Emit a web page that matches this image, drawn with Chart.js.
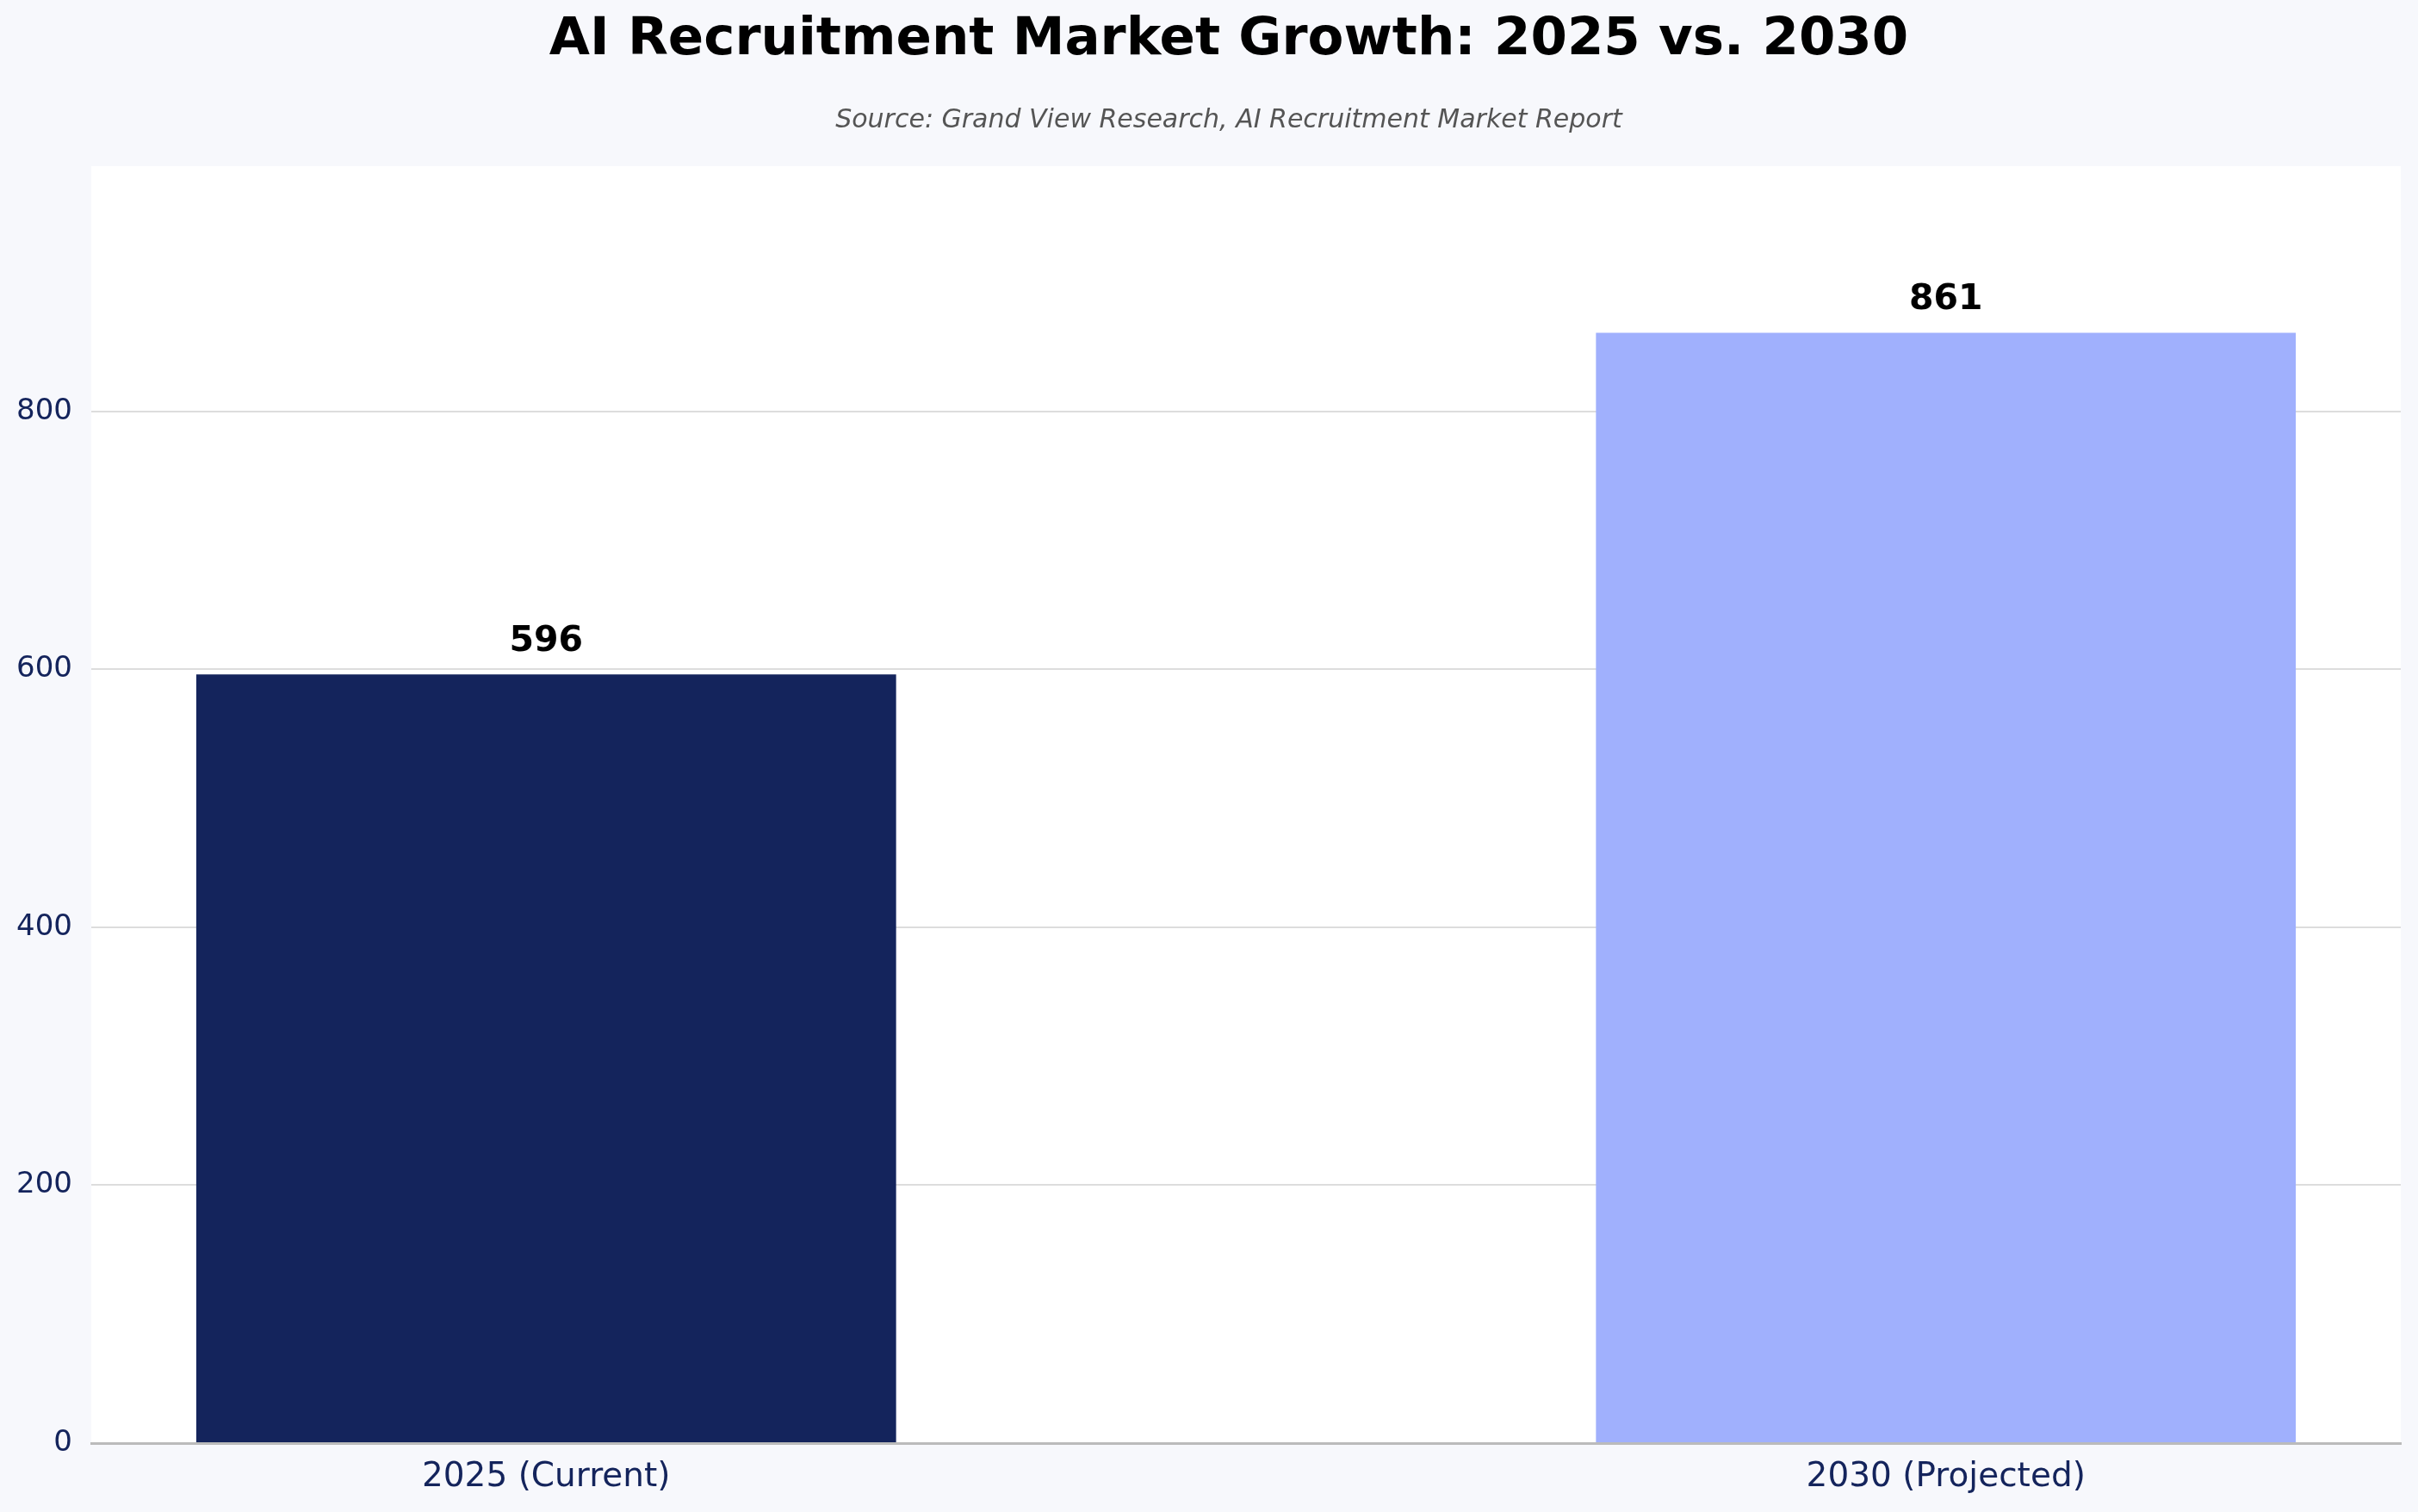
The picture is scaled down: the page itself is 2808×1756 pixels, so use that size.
<!DOCTYPE html>
<html>
<head>
<meta charset="utf-8">
<script src="https://cdn.jsdelivr.net/npm/chart.js@4.4.1/dist/chart.umd.min.js"></script>
<style>
  html, body { margin: 0; padding: 0; background: #F7F8FC; }
  #wrap { width: 2808px; height: 1756px; }
</style>
</head>
<body>
<div id="wrap"><canvas id="myChart" width="2808" height="1756"></canvas></div>
<script>
// data
var categories = ['2025 (Current)', '2030 (Projected)'];
var values = [596, 861];
var barColors = ['#14245C', '#A0B0FD'];
var yTicks = [0, 200, 400, 600, 800];
var yMax = 990.15;
var titleText = 'AI Recruitment Market Growth: 2025 vs. 2030';
var subtitleText = 'Source: Grand View Research, AI Recruitment Market Report';

document.addEventListener('DOMContentLoaded', function () {
    var navy = '#14245C';

    // white plot area
    var plotBg = {
        id: 'plotBg',
        beforeDraw: function (chart) {
            var a = chart.chartArea, c = chart.ctx;
            c.save();
            c.fillStyle = '#FFFFFF';
            c.fillRect(a.left, a.top, a.right - a.left, a.bottom - a.top);
            c.restore();
        }
    };

    // title + source line, centred over the plot area like the original
    var headings = {
        id: 'headings',
        afterDraw: function (chart) {
            var a = chart.chartArea, c = chart.ctx;
            var cx = (a.left + a.right) / 2 - 20;
            c.save();
            c.textAlign = 'center';
            c.textBaseline = 'middle';
            c.fillStyle = '#000000';
            c.font = 'bold 61px "DejaVu Sans"';
            c.fillText(titleText, cx, 47);
            c.fillStyle = '#555555';
            c.font = 'italic 30px "DejaVu Sans"';
            c.fillText(subtitleText, cx, 140);
            c.restore();
        }
    };

    // value labels over the bars
    var valueLabels = {
        id: 'valueLabels',
        afterDatasetsDraw: function (chart) {
            var c = chart.ctx;
            var meta = chart.getDatasetMeta(0);
            c.save();
            c.font = 'bold 41px "DejaVu Sans"';
            c.fillStyle = '#000000';
            c.textAlign = 'center';
            c.textBaseline = 'alphabetic';
            meta.data.forEach(function (bar, i) {
                c.fillText(String(values[i]), bar.x, bar.y - 27);
            });
            c.restore();
        }
    };

    var ctx = document.getElementById('myChart').getContext('2d');
    var myChart = new Chart(ctx, {
        type: 'bar',
        data: {
            datasets: [{
                data: values.map(function (v, i) { return { x: i, y: v }; }),
                backgroundColor: barColors,
                borderWidth: 0,
                barPercentage: 0.5,
                categoryPercentage: 1
            }]
        },
        options: {
            responsive: false,
            devicePixelRatio: 1,
            animation: false,
            layout: { padding: { left: 0, right: 20, top: 193, bottom: 0 } },
            plugins: {
                legend: { display: false },
                tooltip: { enabled: false },
                title: { display: false },
                subtitle: { display: false }
            },
            scales: {
                x: {
                    type: 'linear',
                    min: -0.325,
                    max: 1.325,
                    offset: false,
                    grid: { display: false, drawTicks: false },
                    border: { display: true, color: '#BBBBBB', width: 3 },
                    afterBuildTicks: function (scale) {
                        scale.ticks = categories.map(function (c, i) { return { value: i }; });
                    },
                    afterFit: function (scale) { scale.height = 80; },
                    ticks: {
                        autoSkip: false,
                        maxRotation: 0,
                        padding: 16,
                        color: navy,
                        font: { family: 'DejaVu Sans', size: 39 }
                    ,
                        callback: function (value) { return categories[value]; }
                    }
                },
                y: {
                    min: 0,
                    max: yMax,
                    grid: {
                        drawTicks: false,
                        lineWidth: 2,
                        color: function (c) {
                            return c.tick && c.tick.value === 0 ? 'rgba(0,0,0,0)' : '#DDDDDD';
                        }
                    },
                    border: { display: false },
                    afterBuildTicks: function (scale) {
                        scale.ticks = yTicks.map(function (v) { return { value: v }; });
                    },
                    afterFit: function (scale) { scale.width = 106; },
                    ticks: {
                        padding: 22,
                        color: navy,
                        font: { family: 'DejaVu Sans', size: 34 }
                    }
                }
            }
        },
        plugins: [plotBg, valueLabels, headings]
    });
});
</script>
</body>
</html>
